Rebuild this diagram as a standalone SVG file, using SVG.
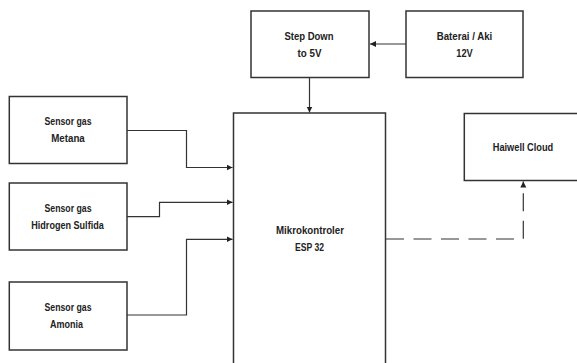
<svg xmlns="http://www.w3.org/2000/svg" width="577" height="363" viewBox="0 0 577 363">
<style>
.box{fill:#fff;stroke:#333;stroke-width:1.5}
.t{font-family:"Liberation Sans",Arial,sans-serif;font-weight:bold;font-size:10.5px;fill:#222;text-anchor:middle}
.c{fill:none;stroke:#333;stroke-width:1.2}
.d{fill:none;stroke:#333;stroke-width:1.2;stroke-dasharray:18 9.5}
</style>
<defs>
<marker id="ah" markerUnits="userSpaceOnUse" markerWidth="7" markerHeight="7" refX="6" refY="3" orient="auto">
<path d="M0,0 L6,3 L0,6 z" fill="#222"/>
</marker>
</defs>
<rect width="577" height="363" fill="#fff"/>
<g id="stepdown">
<rect class="box" x="251" y="11" width="118" height="66.5"/>
<text class="t" x="309" y="40" textLength="49" lengthAdjust="spacingAndGlyphs">Step Down</text>
<text class="t" x="309.5" y="57" textLength="24" lengthAdjust="spacingAndGlyphs">to 5V</text>
</g>
<g id="baterai">
<rect class="box" x="406" y="11" width="117" height="66.5"/>
<text class="t" x="464.5" y="40" textLength="55.5" lengthAdjust="spacingAndGlyphs">Baterai / Aki</text>
<text class="t" x="464.5" y="57" textLength="16.5" lengthAdjust="spacingAndGlyphs">12V</text>
</g>
<g id="metana">
<rect class="box" x="9.3" y="96.5" width="117.7" height="67"/>
<text class="t" x="68" y="125" textLength="47" lengthAdjust="spacingAndGlyphs">Sensor gas</text>
<text class="t" x="68" y="142" textLength="33.5" lengthAdjust="spacingAndGlyphs">Metana</text>
</g>
<g id="hidrogen">
<rect class="box" x="9.3" y="183" width="117.7" height="67"/>
<text class="t" x="68" y="212" textLength="47" lengthAdjust="spacingAndGlyphs">Sensor gas</text>
<text class="t" x="67.5" y="229" textLength="72.5" lengthAdjust="spacingAndGlyphs">Hidrogen Sulfida</text>
</g>
<g id="amonia">
<rect class="box" x="9.3" y="282" width="117.7" height="68"/>
<text class="t" x="68" y="311" textLength="47" lengthAdjust="spacingAndGlyphs">Sensor gas</text>
<text class="t" x="66.5" y="328" textLength="33" lengthAdjust="spacingAndGlyphs">Amonia</text>
</g>
<g id="mikrokontroler">
<rect class="box" x="233.5" y="113" width="152" height="262" stroke-width="2"/>
<text class="t" x="310" y="234" textLength="68" lengthAdjust="spacingAndGlyphs">Mikrokontroler</text>
<text class="t" x="309.5" y="251" textLength="29" lengthAdjust="spacingAndGlyphs">ESP 32</text>
</g>
<g id="haiwell">
<rect class="box" x="464.3" y="113.5" width="130" height="67"/>
<text class="t" x="523" y="151" textLength="60.5" lengthAdjust="spacingAndGlyphs">Haiwell Cloud</text>
</g>
<g id="connectors">
<path class="c" d="M406,44 H370" marker-end="url(#ah)"/>
<path class="c" d="M309.5,77.5 V112.5" marker-end="url(#ah)"/>
<path class="c" d="M127,130.5 H186.5 V167.5 H232.5" marker-end="url(#ah)"/>
<path class="c" d="M127,216.7 H159.5 V202.3 H232.5" marker-end="url(#ah)"/>
<path class="c" d="M127,315 H186.5 V239.3 H232.5" marker-end="url(#ah)"/>
<path class="d" d="M386,239 H523.3 V181.5" marker-end="url(#ah)"/>
</g>
</svg>
